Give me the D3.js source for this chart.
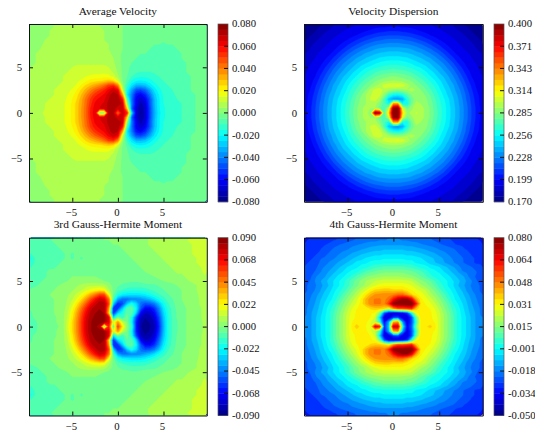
<!DOCTYPE html>
<html><head><meta charset="utf-8">
<script src="https://cdn.jsdelivr.net/npm/d3@7"></script>
<style>html,body{margin:0;padding:0;background:#fff}svg{display:block}text{font-family:"Liberation Serif",serif;font-size:10.7px;fill:#111}text.title{font-size:11.4px}</style>
</head><body><svg id="c" width="535" height="431"></svg>
<script>
// Each grid: rows for y = 0, 0.5 ... 9.5 (the field is mirrored about y = 0); columns x = -9.5 ... 9.5 step 0.5; values in thousandths.
const titles=["Average Velocity","Velocity Dispersion","3rd Gauss-Hermite Moment","4th Gauss-Hermite Moment"];
const ranges=[[-80,80],[170,400],[-90,90],[-50,80]];
const tickLabels=[
 ["-0.080","-0.060","-0.040","-0.020","0.000","0.020","0.040","0.060","0.080"],
 ["0.170","0.199","0.228","0.256","0.285","0.314","0.343","0.371","0.400"],
 ["-0.090","-0.068","-0.045","-0.022","0.000","0.022","0.045","0.068","0.090"],
 ["-0.050","-0.034","-0.018","-0.001","0.015","0.031","0.048","0.064","0.080"]];
const axisTicks=[-5,0,5];
const jetStops=[0,.125,.375,.625,.875,1];
const jetColors=["#000080","#0000ff","#00ffff","#ffff00","#ff0000","#800000"];
const velocity=[
[6,7,9,11,11,11,12,14,17,21,27,35,44,56,64,-5,-5,70,72,42,68,55,-25,-65,-76,-68,-50,-33,-22,-16,-13,-12,-11,-10,-8,-7,-5,-4,-4],
[6,7,9,10,11,11,12,14,17,21,27,35,44,55,63,65,66,72,74,66,70,25,-45,-66,-75,-68,-50,-32,-21,-16,-13,-12,-11,-10,-8,-7,-5,-4,-4],
[6,7,8,10,10,11,12,14,17,21,27,34,43,53,61,64,66,72,75,74,68,5,-40,-62,-72,-66,-48,-31,-21,-15,-13,-12,-11,-10,-8,-7,-5,-4,-4],
[6,7,7,9,10,10,11,13,16,20,25,33,42,51,58,62,64,70,74,74,58,-8,-42,-62,-68,-62,-48,-31,-21,-15,-12,-11,-10,-9,-8,-6,-5,-4,-4],
[6,6,7,8,9,10,11,12,15,18,23,30,38,46,53,57,61,68,73,70,35,-22,-40,-58,-62,-55,-42,-28,-20,-14,-12,-11,-9,-8,-7,-6,-5,-4,-4],
[5,6,7,8,9,10,11,11,13,16,20,26,32,39,45,50,55,62,68,62,12,-18,-34,-48,-50,-45,-34,-24,-17,-13,-11,-10,-9,-7,-6,-5,-5,-4,-4],
[5,6,7,7,8,9,10,11,12,13,16,21,26,30,34,38,44,52,54,40,4,-12,-24,-32,-32,-30,-24,-18,-14,-11,-10,-8,-8,-7,-6,-5,-4,-4,-4],
[5,6,7,7,8,8,9,10,11,12,14,16,19,22,23,24,26,28,26,14,0,-7,-16,-20,-21,-20,-17,-14,-12,-10,-9,-8,-7,-7,-6,-5,-4,-4,-3],
[5,6,6,7,7,8,8,10,11,11,12,13,15,16,17,17,18,17,13,6,-1,-5,-10,-13,-14,-14,-13,-12,-10,-9,-8,-8,-7,-6,-6,-5,-4,-4,-3],
[5,5,6,6,7,8,8,9,10,11,11,12,12,13,13,13,13,12,9,4,-1,-4,-7,-9,-10,-10,-10,-9,-9,-8,-8,-7,-7,-6,-5,-5,-4,-4,-3],
[5,5,6,6,7,7,8,8,9,10,11,11,11,11,11,11,11,10,7,3,-1,-4,-6,-7,-8,-8,-8,-8,-8,-8,-7,-7,-6,-6,-5,-5,-4,-3,-3],
[4,5,6,6,7,7,7,8,8,9,9,9,9,9,9,9,9,8,6,2,-1,-3,-5,-6,-7,-7,-7,-7,-7,-7,-7,-7,-6,-6,-5,-4,-4,-3,-3],
[4,5,5,6,6,7,7,7,8,8,8,8,8,8,8,8,7,7,5,2,-1,-3,-4,-5,-6,-6,-6,-7,-7,-7,-7,-6,-6,-5,-5,-4,-4,-3,-3],
[4,5,5,6,6,6,7,7,7,7,8,8,8,8,7,7,7,6,4,2,-1,-2,-4,-5,-5,-5,-6,-6,-6,-6,-6,-6,-6,-5,-5,-4,-4,-3,-2],
[3,4,5,5,6,6,6,7,7,7,7,7,7,7,7,6,6,5,4,2,0,-2,-3,-4,-5,-5,-5,-6,-6,-6,-6,-6,-5,-5,-4,-4,-4,-3,-2],
[3,4,4,6,5,6,6,6,7,6,7,6,6,6,6,6,5,5,4,2,0,-2,-3,-3,-4,-4,-4,-5,-5,-6,-5,-5,-5,-4,-4,-4,-3,-3,-2],
[3,3,4,5,5,5,6,6,6,6,6,6,6,6,6,5,5,4,4,2,0,-1,-2,-3,-3,-3,-4,-4,-4,-4,-4,-4,-4,-4,-4,-3,-3,-3,-2],
[3,3,4,4,5,5,6,6,6,6,6,6,6,6,6,5,5,4,3,2,0,-1,-2,-2,-3,-3,-3,-3,-4,-4,-4,-4,-4,-3,-3,-3,-3,-2,-2],
[3,3,4,4,5,5,6,6,6,6,6,6,6,6,6,5,5,4,3,2,0,-1,-2,-2,-3,-3,-3,-3,-3,-4,-4,-3,-3,-3,-3,-3,-3,-2,-2],
[3,3,3,4,4,5,5,5,6,6,6,6,6,6,5,5,4,4,3,2,0,-1,-1,-2,-2,-3,-3,-3,-3,-3,-3,-3,-3,-3,-3,-2,-2,-2,-2]];
const dispersion=[
[198,205,213,222,230,238,245,252,260,268,276,284,290,296,285,395,385,272,320,405,405,320,290,295,300,296,290,284,276,268,260,252,245,238,230,222,213,205,198],
[198,205,213,222,230,238,245,252,260,267,275,284,290,296,292,292,280,272,298,395,400,305,282,290,298,296,290,284,275,267,260,252,245,238,230,222,213,205,198],
[197,204,212,221,229,237,244,251,259,266,274,282,288,292,296,296,285,272,258,335,335,258,260,282,296,292,288,282,274,266,259,251,244,237,229,221,212,204,197],
[197,203,211,219,228,236,243,250,257,264,272,280,287,292,300,302,295,272,244,232,230,238,262,280,290,288,287,280,272,264,257,250,243,236,228,219,211,203,197],
[196,202,209,218,226,234,241,247,254,262,269,277,284,292,298,304,302,288,268,258,256,262,275,286,290,288,284,277,269,262,254,247,241,234,226,218,209,202,196],
[194,200,207,215,224,231,238,245,251,258,266,272,279,285,295,302,302,298,292,288,286,288,292,295,291,285,279,272,266,258,251,245,238,231,224,215,207,200,194],
[192,198,205,212,221,228,236,242,248,255,262,268,274,280,285,290,296,302,305,306,307,305,296,290,285,280,274,268,262,255,248,242,236,228,221,212,205,198,192],
[194,196,202,209,217,225,232,238,245,251,257,263,269,274,279,284,287,290,292,293,292,290,287,284,279,274,269,263,257,251,245,238,232,225,217,209,202,196,194],
[193,194,199,206,213,221,228,235,241,246,252,257,263,268,272,277,280,282,284,285,284,282,280,277,272,268,263,257,252,246,241,235,228,221,213,206,199,194,193],
[191,194,197,202,209,216,224,230,236,241,247,252,257,262,266,269,272,274,275,276,275,274,272,269,266,262,257,252,247,241,236,230,224,216,209,202,197,194,191],
[190,193,194,199,205,211,219,225,231,237,241,246,251,255,258,262,264,266,267,268,267,266,264,262,258,255,251,246,241,237,231,225,219,211,205,199,194,193,190],
[188,191,194,196,201,206,213,220,226,231,236,241,245,248,251,254,257,259,260,260,260,259,257,254,251,248,245,241,236,231,226,220,213,206,201,196,194,191,188],
[186,189,192,194,197,202,207,213,220,225,230,235,238,242,245,247,250,251,252,252,252,251,250,247,245,242,238,235,230,225,220,213,207,202,197,194,192,189,186],
[185,187,190,193,195,197,202,207,213,219,224,228,232,236,238,241,243,244,245,245,245,244,243,241,238,236,232,228,224,219,213,207,202,197,195,193,190,187,185],
[182,185,188,190,193,195,197,202,206,211,216,221,225,228,231,234,236,237,238,238,238,237,236,234,231,228,225,221,216,211,206,202,197,195,193,190,188,185,182],
[181,183,186,188,190,193,195,197,201,205,209,213,217,221,224,226,228,229,230,230,230,229,228,226,224,221,217,213,209,205,201,197,195,193,190,188,186,183,181],
[177,181,183,186,188,190,193,195,196,199,202,206,209,212,215,218,219,221,222,222,222,221,219,218,215,212,209,206,202,199,196,195,193,190,188,186,183,181,177],
[174,177,181,183,186,188,190,192,194,195,197,199,202,205,207,209,211,212,213,213,213,212,211,209,207,205,202,199,197,195,194,192,190,188,186,183,181,177,174],
[174,174,177,181,183,185,187,189,191,193,194,195,196,198,200,202,203,204,205,205,205,204,203,202,200,198,196,195,194,193,191,189,187,185,183,181,177,174,174],
[172,174,174,177,181,182,185,186,188,190,191,193,194,194,195,196,197,197,198,198,198,197,197,196,195,194,194,193,191,190,188,186,185,182,181,177,174,174,172]];
const hermite3=[
[-8,-6,-5,-3,-3,-2,0,4,15,28,42,58,74,84,86,80,-10,62,-10,58,25,2,-15,-62,-84,-88,-85,-80,-62,-36,-18,-10,-6,-2,0,2,4,5,6],
[-7,-6,-4,-3,-2,-1,1,4,14,28,42,58,74,84,86,87,85,72,15,40,12,0,-22,-62,-82,-87,-84,-78,-60,-35,-18,-10,-6,-2,0,2,4,5,6],
[-6,-5,-3,-2,-2,-1,1,4,12,25,40,56,72,82,86,87,86,72,-28,-2,-14,-2,-18,-55,-78,-84,-82,-74,-56,-33,-18,-10,-5,-2,0,2,3,5,7],
[-6,-4,-3,-2,-2,0,1,4,11,23,37,53,68,80,84,86,84,30,-62,-30,-18,-6,-6,-30,-68,-78,-76,-68,-50,-30,-17,-9,-5,-1,0,2,4,5,7],
[-5,-4,-3,-2,-1,0,2,3,9,19,32,47,62,76,82,84,84,40,-62,-58,-32,-8,-5,-22,-52,-68,-68,-60,-44,-26,-15,-9,-4,-1,0,2,4,5,7],
[-5,-4,-3,-2,-1,0,1,3,7,15,25,38,52,66,76,82,82,55,-30,-62,-56,-32,-18,-28,-48,-54,-52,-46,-34,-21,-12,-7,-4,-1,1,2,4,6,7],
[-5,-4,-2,-1,-1,0,1,3,6,11,18,28,40,54,66,76,72,48,-12,-38,-48,-48,-44,-44,-42,-38,-34,-28,-20,-14,-9,-6,-3,0,1,3,4,6,8],
[-4,-4,-2,-1,0,0,1,2,5,8,13,19,27,37,46,56,55,22,-4,-18,-24,-26,-27,-27,-26,-24,-20,-16,-12,-9,-6,-4,-2,0,2,3,5,6,8],
[-5,-4,-3,-2,-1,0,1,2,3,5,8,11,15,19,22,24,22,8,-2,-9,-12,-14,-15,-15,-15,-14,-12,-10,-8,-6,-4,-3,-1,0,2,3,5,7,8],
[-7,-6,-5,-4,-3,-2,0,1,2,3,5,7,9,10,10,10,8,3,-2,-5,-7,-8,-9,-9,-9,-8,-7,-7,-5,-4,-3,-2,0,1,2,4,5,7,9],
[-8,-7,-6,-5,-4,-3,-2,-1,0,1,1,2,2,2,2,1,0,-1,-2,-3,-4,-4,-5,-5,-4,-3,-3,-2,-1,0,1,2,3,4,5,6,8,9,10],
[-9,-8,-7,-6,-5,-4,-3,-2,-1,0,0,0,0,0,0,-1,-1,-2,-3,-3,-3,-4,-4,-4,-3,-2,-1,0,1,2,3,4,5,5,6,7,8,9,11],
[-10,-8,-7,-6,-5,-5,-4,-3,-2,-2,-2,-2,-2,-2,-3,-3,-3,-4,-4,-4,-3,-3,-2,-2,-1,0,1,2,3,4,5,5,6,6,7,8,9,10,12],
[-11,-9,-8,-7,-6,-6,-5,-4,-4,-3,-3,-4,-4,-4,-4,-4,-5,-5,-5,-4,-3,-3,-2,-1,0,1,2,3,4,5,5,6,6,7,8,9,10,11,12],
[-14,-10,-8,-7,-7,-6,-6,-5,-5,-5,-5,-5,-5,-5,-5,-5,-5,-5,-5,-4,-3,-2,-1,0,1,2,3,4,4,5,6,7,7,8,9,10,11,12,13],
[-17,-10,-9,-8,-7,-7,-6,-6,-5,-6,-5,-6,-5,-5,-5,-5,-5,-5,-4,-3,-2,-1,0,1,2,3,4,4,5,6,6,7,8,9,9,10,11,12,13],
[-11,-10,-9,-8,-7,-7,-6,-6,-5,-6,-5,-5,-5,-5,-4,-4,-4,-3,-3,-2,-1,0,1,2,3,3,4,5,6,6,7,8,8,9,10,11,12,12,13],
[-10,-9,-8,-7,-7,-6,-6,-5,-5,-5,-5,-4,-4,-4,-4,-3,-3,-2,-1,-1,0,1,2,3,4,4,5,6,6,7,8,8,9,10,10,11,12,13,13],
[-9,-8,-7,-7,-6,-6,-5,-5,-4,-4,-4,-3,-3,-3,-3,-2,-1,-1,0,0,1,2,3,3,4,5,6,6,7,8,8,9,9,10,11,11,12,13,13],
[-8,-7,-7,-6,-6,-5,-5,-4,-4,-3,-3,-3,-2,-2,-2,-1,0,0,1,1,2,3,3,4,5,5,6,7,7,8,8,9,10,10,11,12,12,13,14]];
const hermite4=[
[-17,-14,-10,-6,-2,2,8,14,19,25,32,38,33,31,27,68,62,-30,-8,70,70,0,-35,-22,14,32,34,37,33,25,19,14,8,2,-2,-6,-10,-14,-17],
[-17,-14,-10,-6,-2,2,8,14,19,25,31,33,33,32,28,22,4,-34,-12,40,44,-14,-38,-25,6,32,33,32,31,25,19,14,8,2,-2,-6,-10,-14,-17],
[-17,-14,-10,-6,-2,2,8,14,19,25,30,32,33,33,31,26,-6,-38,-38,-28,-26,-36,-38,-25,12,33,33,32,30,25,19,14,8,2,-2,-6,-10,-14,-17],
[-18,-14,-11,-7,-3,2,7,13,18,24,29,32,33,33,32,30,14,-22,-36,-40,-40,-36,-28,2,30,33,33,32,29,24,18,13,7,2,-3,-7,-11,-14,-18],
[-18,-15,-12,-8,-4,1,5,11,16,22,27,31,32,32,36,38,38,36,30,45,55,55,58,60,38,32,32,31,27,22,16,11,5,1,-4,-8,-12,-15,-18],
[-19,-16,-13,-9,-5,-1,3,9,14,19,24,28,33,40,46,48,48,46,58,78,80,80,82,82,60,33,31,28,24,19,14,9,3,-1,-5,-9,-13,-16,-19],
[-20,-17,-14,-10,-7,-3,0,6,11,16,21,26,32,40,46,48,48,46,50,62,72,76,76,66,42,32,29,25,21,16,11,6,0,-3,-7,-10,-14,-17,-20],
[-21,-18,-15,-12,-8,-5,-1,3,8,13,17,22,28,34,40,44,45,46,46,47,50,50,44,36,32,30,26,21,17,13,8,3,-1,-5,-8,-12,-15,-18,-21],
[-22,-20,-17,-14,-10,-7,-3,1,4,9,14,18,23,27,32,36,37,38,38,36,36,36,33,31,28,26,23,18,14,9,4,1,-3,-7,-10,-14,-17,-20,-22],
[-22,-20,-18,-15,-12,-9,-5,-2,2,5,10,14,17,20,24,27,29,30,30,30,30,30,29,27,24,20,17,14,10,5,2,-2,-5,-9,-12,-15,-18,-20,-22],
[-23,-21,-17,-14,-11,-8,-5,-2,1,5,9,13,16,19,21,23,24,25,25,25,25,25,24,23,19,16,14,11,7,3,1,-2,-5,-8,-11,-14,-17,-21,-23],
[-24,-22,-18,-16,-14,-10,-8,-4,-2,1,4,8,11,14,16,17,18,19,19,19,19,18,17,16,14,11,8,4,2,1,-2,-4,-8,-10,-12,-16,-20,-22,-24],
[-25,-23,-21,-18,-15,-13,-10,-8,-5,-2,0,2,5,8,10,12,13,14,14,14,14,14,13,12,10,8,5,2,0,-2,-5,-8,-10,-13,-17,-18,-20,-21,-25],
[-25,-24,-23,-19,-17,-15,-13,-10,-8,-5,-3,-2,1,2,4,6,7,8,8,8,8,8,7,6,4,2,1,-2,-3,-5,-8,-10,-13,-15,-19,-19,-21,-24,-25],
[-26,-25,-24,-21,-20,-17,-15,-13,-11,-9,-7,-4,-3,-2,0,1,1,2,2,2,2,2,1,1,-2,-3,-4,-7,-9,-11,-13,-15,-17,-19,-21,-23,-25,-26,-26],
[-27,-26,-25,-22,-21,-19,-18,-16,-14,-12,-10,-8,-7,-5,-4,-3,-3,-2,-2,-2,-2,-2,-3,-3,-4,-5,-8,-8,-10,-12,-14,-16,-18,-19,-21,-24,-25,-26,-27],
[-28,-27,-26,-25,-23,-21,-20,-18,-16,-15,-13,-12,-10,-9,-8,-7,-7,-6,-6,-6,-6,-6,-7,-7,-8,-9,-10,-12,-13,-15,-16,-18,-20,-21,-23,-24,-26,-27,-28],
[-28,-28,-27,-26,-24,-23,-21,-20,-19,-18,-16,-15,-14,-13,-12,-11,-11,-10,-10,-10,-10,-10,-11,-11,-12,-13,-14,-15,-16,-18,-19,-20,-21,-23,-25,-26,-27,-28,-28],
[-29,-28,-28,-26,-26,-25,-23,-22,-21,-20,-19,-18,-17,-16,-15,-15,-14,-14,-14,-14,-14,-14,-15,-15,-16,-17,-18,-19,-20,-21,-22,-23,-25,-26,-26,-27,-28,-28,-29],
[-30,-29,-28,-28,-27,-27,-26,-25,-24,-23,-22,-21,-21,-20,-19,-19,-18,-18,-17,-17,-17,-18,-18,-19,-19,-20,-21,-21,-22,-23,-24,-25,-26,-27,-27,-28,-28,-29,-30]];
const grids=[velocity,dispersion,hermite3,hermite4];
const bandCount=32;

const panelX=[[29,206.8],[304,482.8]], panelY=[[24,201.8],[237.7,415.5]];
const barX=[[218,228],[494,504]];
const svg=d3.select("#c");
const jet=d3.scaleLinear().domain(jetStops).range(jetColors);
const xDomain=[-9.75,9.75];

grids.forEach((rows,p)=>{
  rows.forEach((r,i)=>{if(r.length!==39)throw new Error("panel "+p+" row "+i+" has "+r.length);});
  const col=p%2,row=p>>1;
  const x=d3.scaleLinear().domain(xDomain).range(panelX[col]);
  const y=d3.scaleLinear().domain(xDomain).range([panelY[row][1],panelY[row][0]]);
  const [lo,hi]=ranges[p];
  const step=(hi-lo)/bandCount;
  const thresholds=d3.range(bandCount).map(i=>lo+i*step);
  const color=v=>jet(Math.min(1,Math.max(0,(v+step/2-lo)/(hi-lo))));
  const full=[...rows.slice(1).reverse(),...rows];
  const values=full.flat();
  const n=39;
  const contours=d3.contours().size([n,n]).smooth(true).thresholds(thresholds)(values);
  const path=d3.geoPath(d3.geoTransform({point(px,py){
    this.stream.point(x(xDomain[0]+px*0.5),y(xDomain[1]-py*0.5));}}));
  const g=svg.append("g");
  const cid="clip"+p;
  g.append("clipPath").attr("id",cid).append("rect")
    .attr("x",panelX[col][0]).attr("y",panelY[row][0])
    .attr("width",panelX[col][1]-panelX[col][0]).attr("height",panelY[row][1]-panelY[row][0]);
  const field=g.append("g").attr("clip-path",`url(#${cid})`);
  field.append("rect").attr("x",panelX[col][0]).attr("y",panelY[row][0])
    .attr("width",panelX[col][1]-panelX[col][0]).attr("height",panelY[row][1]-panelY[row][0])
    .attr("fill",color(lo));
  field.selectAll("path").data(contours).join("path").attr("d",path)
    .attr("fill",d=>color(d.value)).attr("stroke",d=>color(d.value)).attr("stroke-width",0.3);

  const styleAxis=a=>{a.selectAll("path.domain").attr("stroke","#111").attr("stroke-width",1);
    a.selectAll("line").attr("stroke","#111");a.selectAll("text").attr("font-family",null).attr("font-size",null);};
  g.append("g").attr("transform",`translate(0,${panelY[row][1]})`)
    .call(d3.axisBottom(x).tickValues(axisTicks).tickSizeOuter(0).tickSizeInner(-4).tickPadding(7)).call(styleAxis)
    .call(a=>a.selectAll("text").attr("x",-1.5));
  g.append("g").attr("transform",`translate(0,${panelY[row][0]})`)
    .call(d3.axisTop(x).tickValues(axisTicks).tickSizeOuter(0).tickSizeInner(-4).tickFormat("")).call(styleAxis);
  g.append("g").attr("transform",`translate(${panelX[col][0]},0)`)
    .call(d3.axisLeft(y).tickValues(axisTicks).tickSizeOuter(0).tickSizeInner(-4).tickPadding(7)).call(styleAxis);
  g.append("g").attr("transform",`translate(${panelX[col][1]},0)`)
    .call(d3.axisRight(y).tickValues(axisTicks).tickSizeOuter(0).tickSizeInner(-4).tickFormat("")).call(styleAxis);

  g.append("text").attr("class","title").attr("x",(panelX[col][0]+panelX[col][1])/2).attr("y",panelY[row][0]-9.5)
    .attr("text-anchor","middle").text(titles[p]);

  // colour bar
  const bar=d3.scaleLinear().domain([lo,hi]).range([panelY[row][1],panelY[row][0]]);
  g.append("g").selectAll("rect").data(thresholds).join("rect")
    .attr("x",barX[col][0]).attr("width",barX[col][1]-barX[col][0])
    .attr("y",d=>bar(d+step)).attr("height",d=>bar(d)-bar(d+step)+0.4).attr("fill",color);
  g.append("rect").attr("x",barX[col][0]).attr("y",panelY[row][0])
    .attr("width",barX[col][1]-barX[col][0]).attr("height",panelY[row][1]-panelY[row][0])
    .attr("fill","none").attr("stroke","#555").attr("stroke-width",0.7);
  const tp=d3.scaleLinear().domain([0,8]).range([panelY[row][1],panelY[row][0]]);
  tickLabels[p].forEach((t,i)=>{
    const py=tp(i);
    if(i>0&&i<8) g.append("line").attr("x1",barX[col][1]-4).attr("x2",barX[col][1]).attr("y1",py).attr("y2",py).attr("stroke","#111");
    g.append("text").attr("x",barX[col][1]+4).attr("y",py).attr("dy","0.32em").text(t);
  });
});
</script></body></html>
